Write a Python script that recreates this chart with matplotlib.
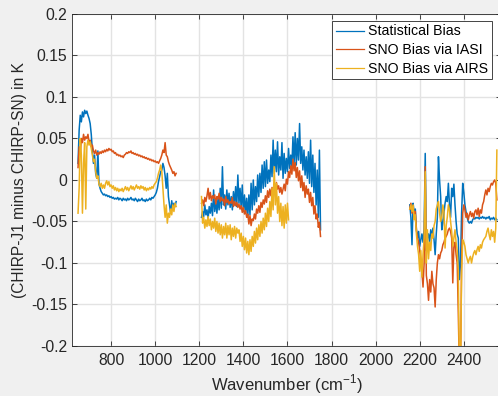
import matplotlib
matplotlib.use('Agg')
import matplotlib.pyplot as plt

plt.rcParams['font.family'] = ['Liberation Sans', 'DejaVu Sans']
plt.rcParams['mathtext.fontset'] = 'custom'
plt.rcParams['mathtext.rm'] = 'Liberation Sans'
plt.rcParams['axes.unicode_minus'] = False

# --- spectral bias data (K) for the three CrIS bands ---
# longwave band
wn_lw = list(range(650, 1100, 5))
stat_lw = [0.020, 0.060, 0.078, 0.070, 0.082, 0.076, 0.084, 0.080, 0.083, 0.078,
           0.074, 0.068, 0.055, 0.035, 0.020, 0.030, 0.008, 0.002, 0.035, -0.005,
           -0.010, -0.014, -0.016, -0.018, -0.017, -0.019, -0.018, -0.020, -0.019, -0.021,
           -0.020, -0.022, -0.021, -0.023, -0.022, -0.023, -0.021, -0.024, -0.022, -0.023,
           -0.025, -0.022, -0.024, -0.023, -0.025, -0.022, -0.024, -0.023, -0.021, -0.024,
           -0.023, -0.025, -0.022, -0.024, -0.026, -0.023, -0.025, -0.024, -0.022, -0.025,
           -0.024, -0.026, -0.023, -0.025, -0.024, -0.022, -0.024, -0.021, -0.022, -0.020,
           -0.018, -0.015, -0.010, -0.002, 0.004, 0.010, 0.012, 0.020, 0.015, 0.005,
           -0.010, 0.008, -0.020, -0.030, -0.040, -0.025, -0.035, -0.028, -0.032, -0.026]
iasi_lw = [0.015, 0.040, 0.030, 0.050, 0.045, 0.055, 0.048, 0.052, 0.050, 0.055,
           0.045, 0.048, 0.040, 0.042, 0.035, 0.032, 0.036, 0.030, 0.033, 0.031,
           0.034, 0.032, 0.035, 0.033, 0.036, 0.034, 0.037, 0.035, 0.038, 0.036,
           0.037, 0.034, 0.035, 0.032, 0.033, 0.030, 0.031, 0.029, 0.030, 0.028,
           0.029, 0.027, 0.030, 0.031, 0.033, 0.032, 0.034, 0.033, 0.035, 0.032,
           0.033, 0.031, 0.032, 0.030, 0.031, 0.029, 0.030, 0.028, 0.029, 0.027,
           0.028, 0.026, 0.027, 0.025, 0.026, 0.024, 0.025, 0.023, 0.024, 0.022,
           0.023, 0.021, 0.022, 0.020, 0.023, 0.026, 0.030, 0.036, 0.033, 0.045,
           0.030, 0.028, 0.022, 0.018, 0.015, 0.012, 0.008, 0.010, 0.005, 0.008]
airs_lw = [-0.040, -0.010, 0.050, 0.030, -0.040, 0.020, 0.045, -0.035, 0.040, 0.048,
           0.042, 0.046, 0.038, 0.030, 0.022, 0.025, 0.010, 0.002, 0.005, -0.005,
           -0.008, -0.004, -0.010, -0.006, -0.010, -0.004, -0.001, -0.006, -0.002, -0.008,
           -0.006, -0.010, -0.007, -0.012, -0.009, -0.013, -0.010, -0.014, -0.011, -0.013,
           -0.010, -0.014, -0.011, -0.008, -0.012, -0.009, -0.013, -0.010, -0.007, -0.011,
           -0.008, -0.012, -0.009, -0.006, -0.010, -0.008, -0.011, -0.007, -0.010, -0.008,
           -0.012, -0.009, -0.013, -0.010, -0.012, -0.009, -0.011, -0.008, -0.010, -0.006,
           -0.004, -0.002, 0.002, 0.008, 0.012, 0.018, 0.010, -0.010, -0.030, -0.045,
           -0.030, -0.052, -0.040, -0.045, -0.035, -0.042, -0.030, -0.038, -0.028, -0.032]

# midwave band
wn_mw = list(range(1210, 1755, 5))
stat_mw = [-0.045, -0.038, -0.044, -0.030, -0.042, -0.036, -0.047, -0.032, -0.040, -0.028,
           -0.043, -0.012, -0.038, -0.025, -0.040, -0.022, -0.036, -0.010, -0.034, 0.016,
           -0.030, -0.018, -0.035, -0.012, -0.030, -0.016, -0.033, -0.020, -0.036, -0.014,
           -0.030, -0.008, -0.032, 0.006, -0.028, -0.010, -0.034, -0.006, -0.038, -0.018,
           -0.040, -0.022, -0.044, -0.018, -0.042, -0.004, -0.036, 0.000, -0.030, -0.008,
           -0.026, 0.006, -0.020, 0.008, -0.015, 0.018, -0.010, 0.022, -0.008, 0.024,
           -0.004, 0.012, -0.002, 0.030, 0.004, 0.048, 0.008, 0.036, 0.010, 0.046,
           0.006, 0.028, 0.012, 0.045, 0.002, 0.032, 0.008, 0.026, 0.010, 0.038,
           0.014, 0.030, 0.016, 0.052, 0.020, 0.057, 0.018, 0.050, 0.024, 0.068,
           0.020, 0.040, 0.012, 0.036, 0.006, 0.028, 0.002, 0.034, -0.004, 0.048,
           -0.008, 0.030, -0.015, 0.020, -0.030, 0.012, -0.045, 0.036, -0.060]
iasi_mw = [-0.028, -0.024, -0.031, -0.021, -0.026, -0.019, -0.010, -0.023, -0.015, -0.025,
           -0.019, -0.022, -0.018, -0.029, -0.020, -0.023, -0.016, -0.026, -0.021, -0.025,
           -0.023, -0.031, -0.020, -0.027, -0.024, -0.029, -0.026, -0.028, -0.021, -0.032,
           -0.026, -0.031, -0.027, -0.033, -0.029, -0.035, -0.031, -0.039, -0.033, -0.041,
           -0.037, -0.045, -0.041, -0.053, -0.043, -0.055, -0.047, -0.049, -0.041, -0.047,
           -0.035, -0.040, -0.031, -0.039, -0.027, -0.033, -0.024, -0.029, -0.019, -0.027,
           -0.013, -0.021, -0.011, -0.019, -0.009, -0.017, -0.005, -0.013, -0.003, -0.011,
           -0.007, -0.015, -0.009, -0.017, -0.011, -0.005, -0.013, 0.001, -0.005, 0.010,
           0.003, 0.017, 0.007, 0.025, 0.011, 0.021, 0.003, 0.015, -0.001, 0.011,
           -0.009, 0.005, -0.013, -0.003, -0.021, -0.007, -0.017, -0.011, -0.027, -0.015,
           -0.031, -0.021, -0.041, -0.031, -0.047, -0.041, -0.057, -0.051, -0.068]
wn_mw_airs = list(range(1210, 1610, 5))
airs_mw = [-0.020, -0.052, -0.045, -0.058, -0.048, -0.056, -0.044, -0.055, -0.047, -0.060,
           -0.050, -0.058, -0.046, -0.062, -0.050, -0.064, -0.052, -0.066, -0.054, -0.070,
           -0.056, -0.066, -0.052, -0.070, -0.055, -0.066, -0.054, -0.072, -0.058, -0.068,
           -0.056, -0.070, -0.058, -0.064, -0.060, -0.074, -0.064, -0.080, -0.068, -0.084,
           -0.070, -0.088, -0.074, -0.090, -0.072, -0.086, -0.068, -0.080, -0.062, -0.076,
           -0.058, -0.072, -0.054, -0.068, -0.050, -0.064, -0.046, -0.060, -0.040, -0.056,
           -0.034, -0.050, -0.026, -0.044, -0.010, -0.036, 0.016, -0.030, -0.004, -0.040,
           -0.020, -0.050, -0.028, -0.055, -0.032, -0.058, -0.030, -0.052, -0.028, -0.048]

# shortwave band
wn_sw = list(range(2155, 2555, 5))
stat_sw = [-0.030, -0.045, -0.078, -0.028, -0.040, -0.035, -0.060, -0.070, -0.062, -0.080,
           -0.072, -0.065, -0.075, -0.060, 0.032, -0.085, -0.070, -0.065, -0.075, -0.060,
           -0.068, -0.058, -0.072, -0.090, -0.065, -0.045, 0.028, 0.000, -0.020, -0.060,
           -0.052, -0.040, -0.028, -0.020, -0.026, -0.004, -0.030, -0.045, -0.010, -0.020,
           -0.005, -0.030, -0.050, -0.065, -0.070, -0.120, -0.100, -0.040, -0.004, -0.015,
           -0.030, -0.038, -0.045, -0.050, -0.052, -0.050, -0.052, -0.048, -0.046, -0.047,
           -0.045, -0.046, -0.045, -0.047, -0.045, -0.046, -0.044, -0.046, -0.045, -0.047,
           -0.045, -0.046, -0.044, -0.048, -0.046, -0.047, -0.045, -0.048, -0.046, -0.048]
iasi_sw = [-0.035, -0.028, -0.040, -0.032, -0.045, -0.038, -0.060, -0.070, -0.075, -0.085,
           -0.097, -0.110, -0.129, -0.100, 0.016, -0.115, -0.125, -0.145, -0.120, -0.135,
           -0.110, -0.125, -0.130, -0.153, -0.120, -0.100, -0.090, -0.095, -0.088, -0.085,
           -0.078, -0.075, -0.070, -0.068, -0.065, -0.060, -0.058, -0.062, -0.070, -0.124,
           -0.080, -0.075, -0.090, -0.100, -0.160, -0.230, -0.230, -0.100, -0.040, -0.030,
           -0.036, -0.045, -0.040, -0.048, -0.042, -0.038, -0.044, -0.040, -0.046, -0.038,
           -0.036, -0.042, -0.034, -0.044, -0.036, -0.040, -0.030, -0.026, -0.018, -0.012,
           -0.018, -0.010, -0.014, -0.008, -0.004, -0.006, -0.002, 0.000, -0.004, -0.024]
airs_sw = [-0.035, -0.030, -0.038, -0.030, -0.048, -0.042, -0.065, -0.080, -0.090, -0.110,
           -0.085, -0.117, -0.090, -0.070, 0.010, -0.100, -0.060, -0.095, -0.075, -0.085,
           -0.065, -0.070, -0.055, -0.050, -0.035, -0.030, -0.026, -0.040, -0.050, -0.045,
           -0.030, -0.038, -0.082, -0.055, -0.045, -0.030, -0.036, -0.050, -0.062, -0.080,
           -0.070, -0.060, -0.075, -0.085, -0.110, -0.230, -0.230, -0.110, -0.072, -0.075,
           -0.080, -0.090, -0.095, -0.100, -0.095, -0.092, -0.100, -0.093, -0.088, -0.085,
           -0.090, -0.084, -0.080, -0.086, -0.078, -0.082, -0.075, -0.072, -0.070, -0.068,
           -0.062, -0.058, -0.066, -0.072, -0.060, -0.068, -0.062, -0.075, -0.058, 0.036]

series_names = ['Statistical Bias', 'SNO Bias via IASI', 'SNO Bias via AIRS']
series_colors = ['#0072BD', '#D95319', '#EDB120']

xtick_vals = [800, 1000, 1200, 1400, 1600, 1800, 2000, 2200, 2400]
ytick_vals = [-0.2, -0.15, -0.1, -0.05, 0, 0.05, 0.1, 0.15, 0.2]
ytick_labels = ['-0.2', '-0.15', '-0.1', '-0.05', '0', '0.05', '0.1', '0.15', '0.2']

fig = plt.figure(figsize=(4.98, 3.96), dpi=100, facecolor='#f0f0f0')
ax = fig.add_axes([0.1452, 0.1263, 0.8605, 0.8384])
ax.set_facecolor('white')

bands = [
    [(wn_lw, stat_lw), (wn_mw, stat_mw), (wn_sw, stat_sw)],
    [(wn_lw, iasi_lw), (wn_mw, iasi_mw), (wn_sw, iasi_sw)],
    [(wn_lw, airs_lw), (wn_mw_airs, airs_mw), (wn_sw, airs_sw)],
]
for name, color, segs in zip(series_names, series_colors, bands):
    for k, (wx, wy) in enumerate(segs):
        ax.plot(wx, wy, color=color, lw=1.1, label=name if k == 0 else None)

ax.set_xlim(624, 2568)
ax.set_ylim(-0.2, 0.2)
ax.set_xticks(xtick_vals)
ax.set_yticks(ytick_vals)
ax.set_yticklabels(ytick_labels)
ax.grid(True, color='#e3e3e3', lw=1.0)
ax.set_axisbelow(True)
ax.tick_params(direction='in', length=3.5, width=0.6, colors='#262626',
               labelsize=11.3, top=True, right=True)
ax.tick_params(axis='x', pad=5)
for sp in ax.spines.values():
    sp.set_color('#262626')
    sp.set_linewidth(0.6)

ax.set_xlabel('Wavenumber (cm$^{-1}$)', fontsize=12, color='#262626', labelpad=3.5)
ax.set_ylabel('(CHIRP-J1 minus CHIRP-SN) in K', fontsize=11.2, color='#262626', labelpad=3)

leg = ax.legend(loc='upper right', bbox_to_anchor=(0.979, 0.979), fontsize=10.2,
                frameon=True, fancybox=False, framealpha=1, edgecolor='#262626',
                borderpad=0.25, labelspacing=0.33, handlelength=2.0, handletextpad=0.28,
                borderaxespad=0)
leg.get_frame().set_linewidth(0.6)
for h in leg.get_lines():
    h.set_linewidth(0.9)

fig.savefig('out.png', dpi=100, facecolor=fig.get_facecolor())
